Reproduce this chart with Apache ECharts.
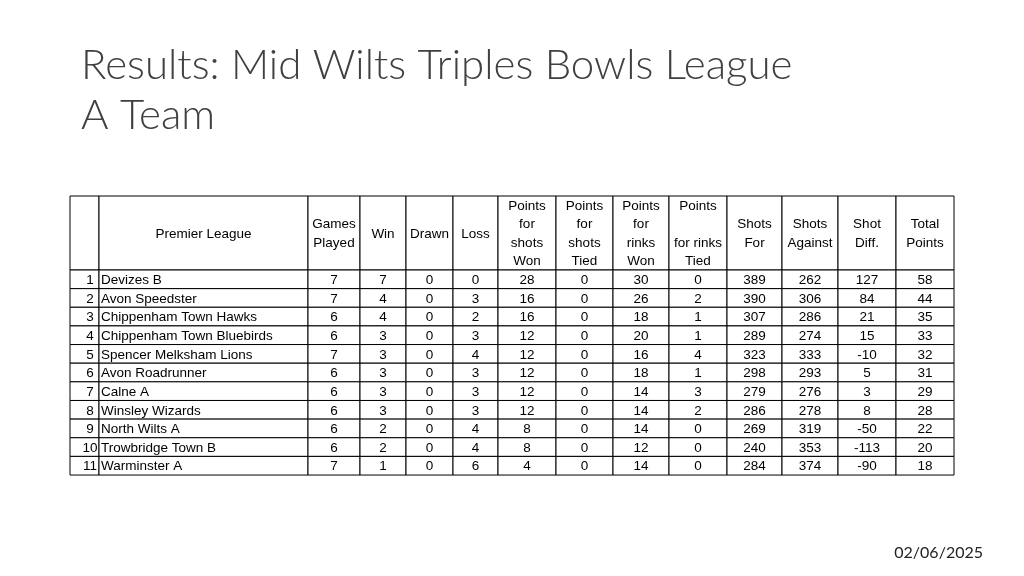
<!DOCTYPE html>
<html>
<head>
<meta charset="utf-8">
<script src="https://cdn.jsdelivr.net/npm/echarts@6/dist/echarts.min.js"></script>
<style>html,body{margin:0;background:#fff}#chart{width:1024px;height:576px}</style>
</head>
<body>
<div id="chart"></div>
<script>
const headers = ['', 'Premier League', 'Games\nPlayed', 'Win', 'Drawn', 'Loss',
    'Points\nfor\nshots\nWon', 'Points\nfor\nshots\nTied', 'Points\nfor\nrinks\nWon',
    'Points\n\nfor rinks\nTied', 'Shots\nFor', 'Shots\nAgainst', 'Shot\nDiff.', 'Total\nPoints'];
const teams = ['Devizes B', 'Avon Speedster', 'Chippenham Town Hawks', 'Chippenham Town Bluebirds',
    'Spencer Melksham Lions', 'Avon Roadrunner', 'Calne A', 'Winsley Wizards', 'North Wilts A',
    'Trowbridge Town B', 'Warminster A'];
const played = [7, 7, 6, 6, 7, 6, 6, 6, 6, 6, 7];
const won = [7, 4, 4, 3, 3, 3, 3, 3, 2, 2, 1];
const drawn = [0, 0, 0, 0, 0, 0, 0, 0, 0, 0, 0];
const lost = [0, 3, 2, 3, 4, 3, 3, 3, 4, 4, 6];
const shotsWonPts = [28, 16, 16, 12, 12, 12, 12, 12, 8, 8, 4];
const shotsTiedPts = [0, 0, 0, 0, 0, 0, 0, 0, 0, 0, 0];
const rinksWonPts = [30, 26, 18, 20, 16, 18, 14, 14, 14, 12, 14];
const rinksTiedPts = [0, 2, 1, 1, 4, 1, 3, 2, 0, 0, 0];
const shotsFor = [389, 390, 307, 289, 323, 298, 279, 286, 269, 240, 284];
const shotsAgainst = [262, 306, 286, 274, 333, 293, 276, 278, 319, 353, 374];
const shotDiff = [127, 84, 21, 15, -10, 5, 3, 8, -50, -113, -90];
const totalPoints = [58, 44, 35, 33, 32, 31, 29, 28, 22, 20, 18];

// layout
const colEdges = [70, 99, 308, 360, 406, 453, 498, 556, 613, 669, 727, 782, 838, 896, 954];
const headerTop = 196, headerBottom = 270, rowH = 18.64;

const columns = [teams.map((t, i) => i + 1), teams, played, won, drawn, lost, shotsWonPts,
    shotsTiedPts, rinksWonPts, rinksTiedPts, shotsFor, shotsAgainst, shotDiff, totalPoints];

const cells = [];
headers.forEach((h, c) => cells.push([c, -1, h]));
teams.forEach((t, r) => columns.forEach((col, c) => cells.push([c, r, String(col[r])])));

const chart = echarts.init(document.getElementById('chart'));
chart.setOption({
    animation: false,
    title: [{
        text: 'Results: Mid Wilts Triples Bowls League\nA Team',
        left: 76, top: 35,
        textStyle: {fontFamily: 'Lato', fontWeight: 300, fontSize: 42, lineHeight: 50, color: '#404040'}
    }, {
        text: '02/06/2025', right: 36, top: 540,
        textStyle: {fontFamily: 'Lato', fontWeight: 'normal', fontSize: 16, color: '#222'}
    }],
    grid: {left: 70, right: 1024 - 954, top: headerTop, bottom: 576 - (headerBottom + rowH * teams.length)},
    xAxis: {type: 'value', min: 70, max: 954, show: false},
    yAxis: {type: 'value', inverse: true, min: headerTop, max: headerBottom + rowH * teams.length, show: false},
    series: [{
        type: 'custom',
        data: cells,
        renderItem: function (params, api) {
            const c = api.value(0), r = api.value(1);
            const text = cells[params.dataIndex][2];
            const y0 = r < 0 ? headerTop : headerBottom + r * rowH;
            const y1 = r < 0 ? headerBottom : y0 + rowH;
            const p0 = api.coord([colEdges[c], y0]);
            const p1 = api.coord([colEdges[c + 1], y1]);
            const left = c === 1 && r >= 0;
            return {
                type: 'group',
                children: [{
                    type: 'rect',
                    shape: {x: p0[0], y: p0[1], width: p1[0] - p0[0], height: p1[1] - p0[1]},
                    style: {fill: '#fff', stroke: '#000', lineWidth: 1}
                }, {
                    type: 'text',
                    style: {
                        text: text,
                        x: left ? p0[0] + 2 : (c === 0 ? p1[0] - 9 : (p0[0] + p1[0]) / 2),
                        y: (p0[1] + p1[1]) / 2 + 1,
                        align: left ? 'left' : 'center',
                        verticalAlign: 'middle',
                        fontFamily: 'Liberation Sans',
                        fontSize: 13.5,
                        lineHeight: 18.5,
                        fill: '#000'
                    }
                }]
            };
        }
    }]
});
</script>
</body>
</html>
